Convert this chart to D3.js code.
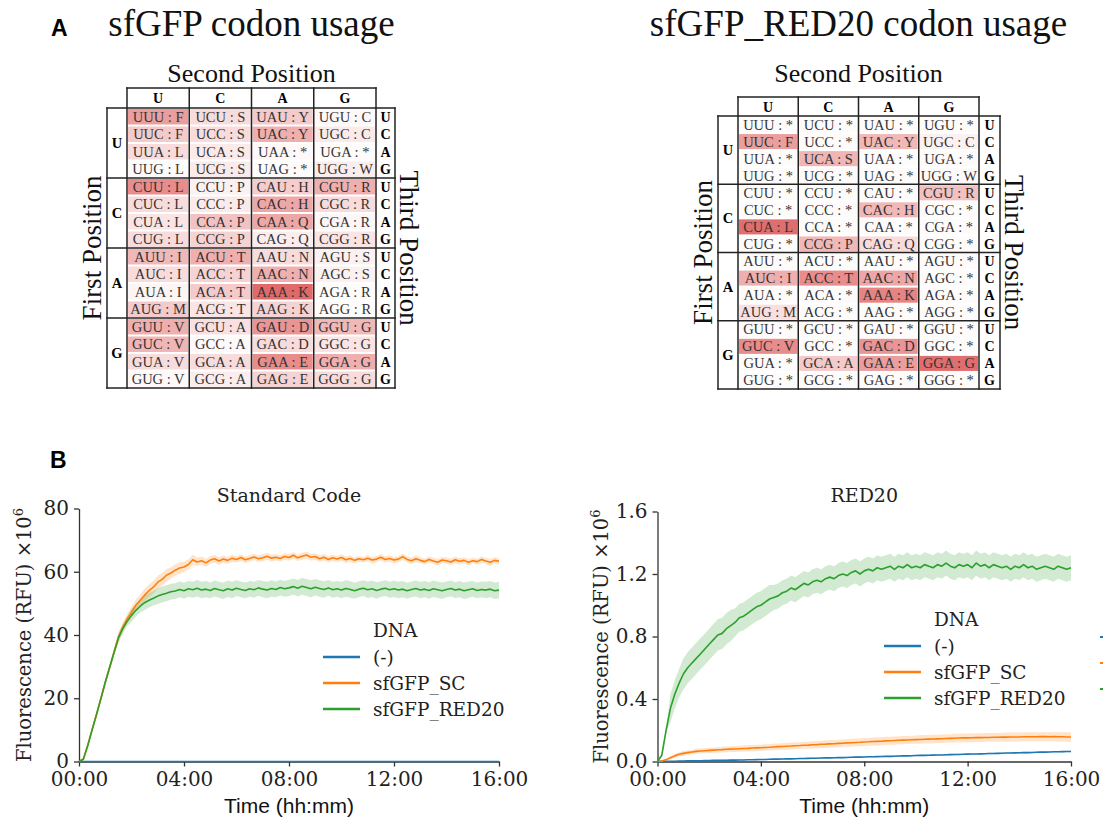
<!doctype html>
<html>
<head>
<meta charset="utf-8">
<script src="https://d3js.org/d3.v7.min.js"></script>
<style>
body { margin: 0; background: #fff; }
svg { display: block; }
</style>
</head>
<body>
<svg id="fig" width="1103" height="822"></svg>
<script>
// ---------- panel A : codon tables ----------
var bases = ["U", "C", "A", "G"];

// amino acid for each codon, one string per first base, index = second*4 + third
var aaStandard = ["FFLLSSSSYY**CC*W", "LLLLPPPPHHQQRRRR", "IIIMTTTTNNKKSSRR", "VVVVAAAADDEEGGGG"];
var aaRed20    = ["*F****S**Y***C*W", "**L****P*H*QR***", "*I*M*T***NK*****", "*V****A**DE***G*"];

// cell shading (0 = white, 1 = darkest red); rows = first+third base, cols = second base
var shadeStandard = [
  [0.55, 0.20, 0.30, 0.04],
  [0.30, 0.20, 0.45, 0.12],
  [0.20, 0.12, 0.04, 0.02],
  [0.02, 0.12, 0.02, 0.10],
  [0.65, 0.08, 0.28, 0.45],
  [0.20, 0.12, 0.50, 0.20],
  [0.15, 0.35, 0.50, 0.05],
  [0.20, 0.25, 0.10, 0.15],
  [0.40, 0.45, 0.20, 0.08],
  [0.20, 0.25, 0.45, 0.08],
  [0.06, 0.30, 0.85, 0.02],
  [0.30, 0.15, 0.25, 0.02],
  [0.45, 0.18, 0.60, 0.40],
  [0.42, 0.04, 0.20, 0.15],
  [0.20, 0.20, 0.65, 0.45],
  [0.04, 0.10, 0.25, 0.20]
];
var shadeRed20 = [
  [0.02, 0.02, 0.02, 0.02],
  [0.55, 0.02, 0.40, 0.08],
  [0.02, 0.42, 0.02, 0.02],
  [0.02, 0.02, 0.02, 0.03],
  [0.02, 0.02, 0.02, 0.35],
  [0.02, 0.02, 0.40, 0.02],
  [0.82, 0.02, 0.02, 0.02],
  [0.02, 0.40, 0.20, 0.02],
  [0.02, 0.02, 0.02, 0.02],
  [0.45, 0.65, 0.50, 0.02],
  [0.02, 0.02, 0.70, 0.02],
  [0.18, 0.02, 0.02, 0.02],
  [0.02, 0.02, 0.02, 0.02],
  [0.65, 0.02, 0.60, 0.02],
  [0.02, 0.30, 0.55, 0.82],
  [0.02, 0.02, 0.02, 0.02]
];

// ---------- panel B : fluorescence time courses ----------
var minutes = [
  0, 10, 20, 30, 40, 50, 60, 70, 80, 90,
  100, 110, 120, 130, 140, 150, 160, 170, 180, 190,
  200, 210, 220, 230, 240, 250, 260, 270, 280, 290,
  300, 310, 320, 330, 340, 350, 360, 370, 380, 390,
  400, 410, 420, 430, 440, 450, 460, 470, 480, 490,
  500, 510, 520, 530, 540, 550, 560, 570, 580, 590,
  600, 610, 620, 630, 640, 650, 660, 670, 680, 690,
  700, 710, 720, 730, 740, 750, 760, 770, 780, 790,
  800, 810, 820, 830, 840, 850, 860, 870, 880, 890,
  900, 910, 920, 930, 940, 950, 960
];
var xTicks = [0, 240, 480, 720, 960];
var xTickLabels = ["00:00", "04:00", "08:00", "12:00", "16:00"];

// Standard Code (x10^6 RFU)
var scNone = [
  0, 0, 0, 0, 0, 0, 0, 0, 0, 0,
  0, 0, 0, 0, 0, 0, 0, 0, 0, 0,
  0, 0, 0, 0, 0, 0, 0, 0, 0, 0,
  0, 0, 0, 0, 0, 0, 0, 0, 0, 0,
  0, 0, 0, 0, 0, 0, 0, 0, 0, 0,
  0, 0, 0, 0, 0, 0, 0, 0, 0, 0,
  0, 0, 0, 0, 0, 0, 0, 0, 0, 0,
  0, 0, 0, 0, 0, 0, 0, 0, 0, 0,
  0, 0, 0, 0, 0, 0, 0, 0, 0, 0,
  0, 0, 0, 0, 0, 0, 0
];
var scSC = [
  0.0, 0.8, 5.2, 10.1, 14.8, 20.0, 25.1, 29.6, 34.6, 39.3,
  42.4, 45.1, 47.2, 49.4, 51.0, 52.6, 54.0, 55.1, 56.7, 57.6,
  58.9, 59.6, 60.5, 61.2, 61.5, 62.3, 63.8, 63.1, 63.5, 62.8,
  63.7, 64.1, 63.4, 64.0, 63.6, 64.3, 63.9, 64.5, 63.8, 64.2,
  64.7, 64.1, 64.4, 64.9, 64.3, 64.6, 64.2, 64.8, 64.5, 65.2,
  64.4, 64.9, 65.3, 64.6, 64.8, 64.1, 64.6, 63.9, 64.4, 64.0,
  64.5, 63.8, 64.2, 63.6, 64.1, 63.8, 64.3, 63.7, 64.0, 64.6,
  63.9, 64.2, 63.7, 64.0, 64.8, 63.9, 63.5, 64.1, 63.6, 63.2,
  63.9, 63.4, 63.0, 63.7, 63.5, 63.1, 63.8, 63.3, 63.6, 63.0,
  63.5, 63.2, 63.9, 63.4, 63.0, 63.6, 63.3
];
var scRED20 = [
  0.0, 0.7, 5.0, 10.0, 14.9, 19.8, 25.0, 29.8, 34.4, 39.0,
  42.0, 44.3, 46.2, 47.8, 49.1, 50.2, 51.0, 51.6, 52.3, 52.8,
  53.2, 53.7, 53.9, 54.4, 54.0, 54.6, 54.3, 54.8, 54.2, 54.5,
  54.1, 54.7, 54.3, 54.0, 54.6, 54.2, 54.8, 54.4, 54.1, 54.6,
  54.3, 54.9, 54.5, 54.2, 54.7, 54.4, 55.0, 54.6, 54.9, 55.3,
  54.8, 55.4, 55.0, 54.6, 55.1, 54.7, 54.4, 54.9, 54.3, 54.6,
  54.2, 54.7, 54.4, 54.0, 54.5, 54.8, 54.3, 54.6, 54.1, 54.5,
  54.8, 54.3, 54.6, 54.2, 54.5, 54.0, 54.4, 54.7, 54.2, 54.5,
  54.1, 54.6, 54.3, 54.0, 54.4, 54.7, 54.2, 54.5, 54.0, 54.3,
  54.6, 54.1, 54.4, 54.2, 54.5, 54.0, 54.2
];
// band half widths, one value per 30 min
var scSCBand = [0.3, 0.8, 1.0, 1.5, 1.8, 2.0, 2.0, 1.8, 1.6, 1.3, 1.2, 1.1, 1.0, 1.0, 1.1, 1.0, 1.0,
  1.1, 1.0, 1.0, 1.0, 0.9, 1.0, 1.0, 1.0, 1.0, 0.9, 1.0, 1.0, 1.0, 0.9, 1.0, 1.0];
var scRED20Band = [0.3, 0.8, 1.0, 1.5, 2.0, 2.3, 2.5, 2.5, 2.5, 2.6, 2.5, 2.6, 2.5, 2.5, 2.6, 2.5, 2.6,
  2.7, 2.6, 2.5, 2.6, 2.5, 2.6, 2.5, 2.6, 2.5, 2.6, 2.6, 2.5, 2.6, 2.5, 2.6, 2.6];

// RED20 code (x10^6 RFU)
var redNone = [
  0.000, 0.001, 0.001, 0.002, 0.002, 0.003, 0.003, 0.004, 0.004, 0.005,
  0.005, 0.006, 0.006, 0.007, 0.007, 0.008, 0.008, 0.009, 0.009, 0.010,
  0.010, 0.011, 0.011, 0.012, 0.013, 0.013, 0.014, 0.015, 0.015, 0.016,
  0.017, 0.017, 0.018, 0.019, 0.019, 0.020, 0.021, 0.021, 0.022, 0.023,
  0.023, 0.024, 0.025, 0.025, 0.026, 0.027, 0.028, 0.028, 0.029, 0.030,
  0.030, 0.031, 0.032, 0.033, 0.033, 0.034, 0.035, 0.036, 0.036, 0.037,
  0.038, 0.039, 0.039, 0.040, 0.041, 0.042, 0.042, 0.043, 0.044, 0.045,
  0.045, 0.046, 0.047, 0.048, 0.048, 0.049, 0.050, 0.051, 0.051, 0.052,
  0.053, 0.054, 0.054, 0.055, 0.056, 0.057, 0.057, 0.058, 0.059, 0.060,
  0.060, 0.061, 0.062, 0.062, 0.063, 0.064, 0.064
];
var redSC = [
  0.000, 0.003, 0.012, 0.024, 0.036, 0.046, 0.052, 0.057, 0.061, 0.065,
  0.067, 0.069, 0.071, 0.073, 0.075, 0.076, 0.078, 0.079, 0.080, 0.082,
  0.083, 0.084, 0.086, 0.087, 0.088, 0.090, 0.091, 0.093, 0.095, 0.096,
  0.098, 0.099, 0.101, 0.102, 0.104, 0.105, 0.107, 0.108, 0.110, 0.111,
  0.113, 0.114, 0.116, 0.117, 0.119, 0.120, 0.122, 0.123, 0.125, 0.126,
  0.128, 0.129, 0.130, 0.132, 0.133, 0.134, 0.136, 0.137, 0.138, 0.139,
  0.140, 0.141, 0.142, 0.143, 0.144, 0.145, 0.146, 0.147, 0.148, 0.149,
  0.150, 0.151, 0.151, 0.152, 0.153, 0.153, 0.154, 0.154, 0.155, 0.155,
  0.156, 0.156, 0.157, 0.157, 0.157, 0.158, 0.158, 0.158, 0.158, 0.159,
  0.159, 0.158, 0.159, 0.158, 0.158, 0.157, 0.157
];
var redRED20 = [
  0.00, 0.04, 0.20, 0.34, 0.43, 0.50, 0.56, 0.60, 0.63, 0.66,
  0.69, 0.72, 0.75, 0.78, 0.81, 0.82, 0.85, 0.87, 0.89, 0.92,
  0.93, 0.95, 0.97, 0.99, 1.00, 1.02, 1.04, 1.05, 1.06, 1.08,
  1.09, 1.11, 1.10, 1.12, 1.14, 1.13, 1.15, 1.16, 1.15, 1.17,
  1.18, 1.17, 1.19, 1.20, 1.19, 1.21, 1.22, 1.20, 1.22, 1.23,
  1.22, 1.24, 1.23, 1.24, 1.25, 1.23, 1.25, 1.24, 1.26, 1.24,
  1.25, 1.24, 1.26, 1.25, 1.24, 1.26, 1.25, 1.27, 1.25, 1.24,
  1.26, 1.25, 1.26, 1.24, 1.27, 1.25, 1.26, 1.24, 1.26, 1.25,
  1.24, 1.25, 1.23, 1.25, 1.24, 1.26, 1.24, 1.25, 1.23, 1.24,
  1.25, 1.24, 1.23, 1.25, 1.24, 1.23, 1.24
];
var redNoneBand = [0.001, 0.002, 0.002, 0.002, 0.002, 0.003, 0.003, 0.003, 0.003, 0.003, 0.003, 0.004, 0.004,
  0.004, 0.004, 0.004, 0.004, 0.004, 0.005, 0.005, 0.005, 0.005, 0.005, 0.005, 0.005, 0.005, 0.005, 0.005,
  0.005, 0.005, 0.005, 0.005, 0.005];
var redSCBand = [0.003, 0.012, 0.015, 0.016, 0.017, 0.018, 0.019, 0.020, 0.020, 0.021, 0.022, 0.022, 0.023,
  0.024, 0.024, 0.025, 0.025, 0.026, 0.026, 0.026, 0.027, 0.027, 0.027, 0.028, 0.028, 0.028, 0.028, 0.029,
  0.029, 0.029, 0.029, 0.030, 0.030];
var redRED20Band = [0.01, 0.09, 0.10, 0.10, 0.10, 0.10, 0.09, 0.09, 0.09, 0.08, 0.08, 0.08, 0.08, 0.08, 0.08,
  0.08, 0.08, 0.08, 0.08, 0.08, 0.08, 0.08, 0.08, 0.08, 0.08, 0.08, 0.08, 0.08, 0.08, 0.08, 0.08, 0.08, 0.08];

var dnaNames = ["(-)", "sfGFP_SC", "sfGFP_RED20"];
var dnaColors = ["#1f77b4", "#ff7f0e", "#2ca02c"];

var svg = d3.select("#fig");
var serif = "'Liberation Serif', 'Times New Roman', serif";
var mplSerif = "'DejaVu Serif', serif";
var sans = "'Liberation Sans', Arial, sans-serif";
var red = d3.interpolateRgb("#ffffff", "#db4e4e");

// panel letters
svg.append("text").attr("x", 51).attr("y", 36).text("A")
  .style("font-family", sans).style("font-weight", "bold").style("font-size", "23px");
svg.append("text").attr("x", 50).attr("y", 468).text("B")
  .style("font-family", sans).style("font-weight", "bold").style("font-size", "23px");

function drawTable(L, title, aa, shade) {
  var g = svg.append("g");
  var col = d3.scaleBand().domain(bases).range([L.x0, L.x1]);
  var row = d3.scaleBand().domain(d3.range(16)).range([L.y0, L.y1]);
  var cx = (L.x0 + L.x1) / 2, cy = (L.y0 + L.y1) / 2;

  g.append("text").attr("x", cx).attr("y", 36).attr("text-anchor", "middle").text(title)
    .style("font-family", serif).style("font-size", "37px").style("fill", "#111");
  g.append("text").attr("x", cx).attr("y", L.secondY).attr("text-anchor", "middle").text("Second Position")
    .style("font-family", serif).style("font-size", "26px").style("fill", "#111");
  g.append("text").attr("transform", "translate(" + (L.x0 - L.firstW - 6) + "," + cy + ") rotate(-90)")
    .attr("text-anchor", "middle").text("First Position")
    .style("font-family", serif).style("font-size", "27px").style("fill", "#111");
  g.append("text").attr("transform", "translate(" + (L.x1 + L.thirdW + 5) + "," + cy + ") rotate(90)")
    .attr("text-anchor", "middle").text("Third Position")
    .style("font-family", serif).style("font-size", "27px").style("fill", "#111");

  var cells = [];
  bases.forEach(function (f, fi) {
    bases.forEach(function (t, ti) {
      bases.forEach(function (s, si) {
        cells.push({ r: fi * 4 + ti, c: s, codon: f + s + t, aa: aa[fi][si * 4 + ti], v: shade[fi * 4 + ti][si] });
      });
    });
  });

  g.selectAll("rect.cell").data(cells).enter().append("rect").attr("class", "cell")
    .attr("x", function (d) { return col(d.c) + 1; })
    .attr("y", function (d) { return row(d.r) + 1; })
    .attr("width", col.bandwidth() - 2)
    .attr("height", row.bandwidth() - 2)
    .style("fill", function (d) { return red(d.v); });
  g.selectAll("text.cell").data(cells).enter().append("text").attr("class", "cell")
    .attr("x", function (d) { return col(d.c) + col.bandwidth() / 2; })
    .attr("y", function (d) { return row(d.r) + row.bandwidth() / 2 + 5; })
    .attr("text-anchor", "middle")
    .text(function (d) { return d.codon + " : " + d.aa; })
    .style("font-family", serif).style("font-size", "14.5px").style("fill", "#333");

  // header letters
  g.selectAll("text.head").data(bases).enter().append("text")
    .attr("x", function (d) { return col(d) + col.bandwidth() / 2; })
    .attr("y", L.hTop + (L.y0 - L.hTop) / 2 + 5)
    .attr("text-anchor", "middle").text(function (d) { return d; })
    .style("font-family", serif).style("font-weight", "bold").style("font-size", "14px");
  // first position letters
  g.selectAll("text.first").data(bases).enter().append("text")
    .attr("x", L.x0 - L.firstW / 2)
    .attr("y", function (d, i) { return row(i * 4) + row.bandwidth() * 2 + 5; })
    .attr("text-anchor", "middle").text(function (d) { return d; })
    .style("font-family", serif).style("font-weight", "bold").style("font-size", "14.5px");
  // third position letters
  g.selectAll("text.third").data(d3.range(16)).enter().append("text")
    .attr("x", L.x1 + L.thirdW / 2)
    .attr("y", function (r) { return row(r) + row.bandwidth() / 2 + 5; })
    .attr("text-anchor", "middle").text(function (r) { return bases[r % 4]; })
    .style("font-family", serif).style("font-weight", "bold").style("font-size", "14px");

  var lines = [];
  var left = L.x0 - L.firstW, right = L.x1 + L.thirdW;
  lines.push([L.x0, L.hTop, L.x1, L.hTop]);
  [0, 4, 8, 12].forEach(function (r) { lines.push([left, row(r), right, row(r)]); });
  lines.push([left, L.y1, right, L.y1]);
  bases.forEach(function (b) { lines.push([col(b), L.hTop, col(b), L.y1]); });
  lines.push([L.x1, L.hTop, L.x1, L.y1]);
  lines.push([left, L.y0, left, L.y1]);
  lines.push([right, L.y0, right, L.y1]);
  g.selectAll("line.grid").data(lines).enter().append("line")
    .attr("x1", function (d) { return d[0]; }).attr("y1", function (d) { return d[1]; })
    .attr("x2", function (d) { return d[2]; }).attr("y2", function (d) { return d[3]; })
    .style("stroke", "#222").style("stroke-width", 1.5).style("stroke-linecap", "square");
}

drawTable({ x0: 127, x1: 376, y0: 108, y1: 388, hTop: 88, firstW: 20, thirdW: 19, secondY: 82 },
  "sfGFP codon usage", aaStandard, shadeStandard);
drawTable({ x0: 738, x1: 979, y0: 116, y1: 389, hTop: 97, firstW: 20, thirdW: 21, secondY: 82 },
  "sfGFP_RED20 codon usage", aaRed20, shadeRed20);

function drawChart(P, title, series, yTicks, yFmt) {
  var g = svg.append("g");
  var x = d3.scaleLinear().domain([0, 960]).range([P.x0, P.x1]);
  var y = d3.scaleLinear().domain([0, yTicks[yTicks.length - 1]]).range([P.y0, P.y1]);

  series.forEach(function (s) {
    var area = d3.area()
      .x(function (d, i) { return x(minutes[i]); })
      .y0(function (d, i) { return y(Math.max(0, d - s.band[Math.floor(i / 3)])); })
      .y1(function (d, i) { return y(d + s.band[Math.floor(i / 3)]); });
    if (s.band) g.append("path").attr("d", area(s.values)).style("fill", s.color).style("opacity", 0.22);
  });

  var ax = g.append("g").attr("transform", "translate(0," + P.y0 + ")")
    .call(d3.axisBottom(x).tickValues(xTicks).tickSize(5).tickSizeOuter(0).tickPadding(5)
      .tickFormat(function (d, i) { return xTickLabels[i]; }));
  var ay = g.append("g").attr("transform", "translate(" + P.x0 + ",0)")
    .call(d3.axisLeft(y).tickValues(yTicks).tickSize(5).tickSizeOuter(0).tickPadding(5).tickFormat(yFmt));
  [ax, ay].forEach(function (a) {
    a.select(".domain").style("stroke", "#333").style("stroke-width", 1.3);
    a.selectAll(".tick line").style("stroke", "#333").style("stroke-width", 1.3);
    a.selectAll(".tick text").style("font-family", mplSerif).style("font-size", "20px").style("fill", "#222");
  });

  var line = d3.line().x(function (d, i) { return x(minutes[i]); }).y(function (d) { return y(d); });
  series.forEach(function (s) {
    g.append("path").attr("d", line(s.values)).style("fill", "none")
      .style("stroke", s.color).style("stroke-width", 1.6).style("stroke-linejoin", "round");
  });

  g.append("text").attr("x", (P.x0 + P.x1) / 2).attr("y", 502).attr("text-anchor", "middle").text(title)
    .style("font-family", mplSerif).style("font-size", "19px").style("fill", "#222");
  g.append("text").attr("x", (P.x0 + P.x1) / 2).attr("y", 813).attr("text-anchor", "middle").text("Time (hh:mm)")
    .style("font-family", sans).style("font-size", "21px").style("fill", "#111");
  var yl = g.append("text")
    .attr("transform", "translate(" + P.ylabX + "," + (P.y0 + P.y1) / 2 + ") rotate(-90)")
    .attr("text-anchor", "middle")
    .style("font-family", mplSerif).style("font-size", "19.5px").style("fill", "#222");
  yl.append("tspan").text("Fluorescence (RFU) \u00d710");
  yl.append("tspan").attr("dy", -8).style("font-size", "13px").text("6");

  // legend
  var lg = g.append("g");
  lg.append("text").attr("x", P.legX + 50).attr("y", P.legY).text("DNA")
    .style("font-family", mplSerif).style("font-size", "18.5px").style("fill", "#222");
  var items = lg.selectAll("g.item").data(series).enter().append("g")
    .attr("transform", function (d, i) { return "translate(" + P.legX + "," + (P.legY + 20 + i * 26) + ")"; });
  items.append("line").attr("x1", 0).attr("x2", 37).attr("y1", 0).attr("y2", 0)
    .style("stroke", function (d) { return d.color; }).style("stroke-width", 2.5);
  items.append("text").attr("x", 50).attr("y", 6.5).text(function (d) { return d.name; })
    .style("font-family", mplSerif).style("font-size", "18.5px").style("fill", "#222");
  return items;
}

drawChart({ x0: 79, x1: 499, y0: 761.5, y1: 508.5, ylabX: 31, legX: 323, legY: 637 }, "Standard Code",
  [
    { name: dnaNames[0], color: dnaColors[0], values: scNone, band: null },
    { name: dnaNames[1], color: dnaColors[1], values: scSC, band: scSCBand },
    { name: dnaNames[2], color: dnaColors[2], values: scRED20, band: scRED20Band }
  ], [0, 20, 40, 60, 80], d3.format("d"));

var rightItems = drawChart({ x0: 657.5, x1: 1071, y0: 761.5, y1: 511.5, ylabX: 608, legX: 884, legY: 626 }, "RED20",
  [
    { name: dnaNames[0], color: dnaColors[0], values: redNone, band: redNoneBand },
    { name: dnaNames[1], color: dnaColors[1], values: redSC, band: redSCBand },
    { name: dnaNames[2], color: dnaColors[2], values: redRED20, band: redRED20Band }
  ], [0, 0.4, 0.8, 1.2, 1.6], d3.format(".1f"));

// clipped legend swatches of a neighbouring panel at the right edge
rightItems.append("line").attr("x1", 216).attr("x2", 219).attr("y1", -9).attr("y2", -9)
  .style("stroke", function (d) { return d.color; }).style("stroke-width", 2);
</script>
</body>
</html>
